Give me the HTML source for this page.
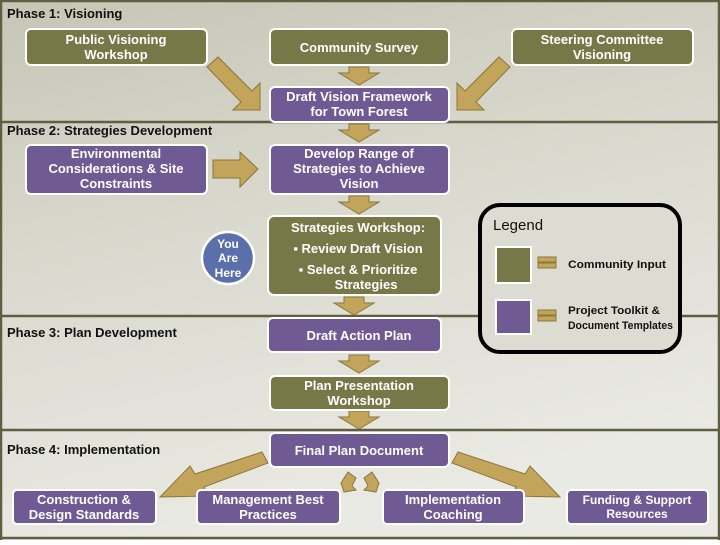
<!DOCTYPE html><html><head><style>body{margin:0}svg text{font-family:"Liberation Sans",sans-serif;font-weight:bold}</style></head><body>
<svg width="720" height="540" viewBox="0 0 720 540" xmlns="http://www.w3.org/2000/svg">
<defs><linearGradient id="bg" x1="0" y1="0" x2="0.3" y2="1"><stop offset="0" stop-color="#c6c6b6"/><stop offset="0.5" stop-color="#dadad0"/><stop offset="1" stop-color="#eaeae4"/></linearGradient>
<g id="da"><polygon points="-10,0 10,0 10,6 20,6 0,18 -20,6 -10,6" fill="#c2a55a" stroke="#8a763c" stroke-width="1"/></g></defs>
<rect width="720" height="540" fill="url(#bg)"/>
<g stroke="#5e5e40" stroke-width="2.5"><line x1="0" y1="1" x2="720" y2="1"/><line x1="0" y1="122" x2="720" y2="122"/><line x1="0" y1="316" x2="720" y2="316"/><line x1="0" y1="430" x2="720" y2="430"/><line x1="0" y1="538" x2="720" y2="538"/><line x1="1" y1="0" x2="1" y2="540"/><line x1="719" y1="0" x2="719" y2="540"/></g>
<g font-size="13" fill="#111"><text x="7" y="18">Phase 1: Visioning</text><text x="7" y="135">Phase 2: Strategies Development</text><text x="7" y="337">Phase 3: Plan Development</text><text x="7" y="454">Phase 4: Implementation</text></g>
<g fill="#c2a55a" stroke="#8a763c" stroke-width="1">
<polygon points="207,67 218,57 252,91 260,83 260,110 233,110 241,102"/>
<polygon points="510,67 499,57 465,91 457,83 457,110 484,110 476,102"/>
<polygon points="213,160 240,160 240,152 258,169 240,187 240,178 213,178"/>
<polygon points="262,452 268,463 204,487 208,496 160,497 190,466 195,474"/>
<polygon points="458,452 452,463 516,487 512,496 560,497 530,466 525,474"/>
<polygon points="341,483 348,472 356,478 352,486 356,490 344,492"/>
<polygon points="379,483 372,472 364,478 368,486 364,490 376,492"/>
</g>
<use href="#da" x="359" y="67"/><use href="#da" x="359" y="124"/><use href="#da" x="359" y="196"/><use href="#da" x="354" y="297"/><use href="#da" x="359" y="355"/><use href="#da" x="359" y="411"/>
<g stroke="#fff" stroke-width="2">
<rect x="26" y="29" width="181" height="36" rx="5" fill="#777748"/>
<rect x="270" y="29" width="179" height="36" rx="5" fill="#777748"/>
<rect x="512" y="29" width="181" height="36" rx="5" fill="#777748"/>
<rect x="270" y="87" width="179" height="35" rx="5" fill="#6f5a93"/>
<rect x="26" y="145" width="181" height="49" rx="5" fill="#6f5a93"/>
<rect x="270" y="145" width="179" height="49" rx="5" fill="#6f5a93"/>
<rect x="268" y="216" width="173" height="79" rx="6" fill="#777748"/>
<rect x="268" y="318" width="173" height="34" rx="5" fill="#6f5a93"/>
<rect x="270" y="376" width="179" height="34" rx="5" fill="#777748"/>
<rect x="270" y="433" width="179" height="34" rx="5" fill="#6f5a93"/>
<rect x="13" y="490" width="143" height="34" rx="4" fill="#6f5a93"/>
<rect x="197" y="490" width="143" height="34" rx="4" fill="#6f5a93"/>
<rect x="383" y="490" width="141" height="34" rx="4" fill="#6f5a93"/>
<rect x="567" y="490" width="141" height="34" rx="4" fill="#6f5a93"/>
<circle cx="228" cy="258" r="26" fill="#5b6faa" stroke-width="2.5"/>
</g>
<g fill="#fff" font-size="13" text-anchor="middle">
<text x="116" y="44">Public Visioning</text><text x="116" y="59">Workshop</text>
<text x="359" y="52">Community Survey</text>
<text x="602" y="44">Steering Committee</text><text x="602" y="59">Visioning</text>
<text x="359" y="101">Draft Vision Framework</text><text x="359" y="116">for Town Forest</text>
<text x="116" y="158">Environmental</text><text x="116" y="173">Considerations &amp; Site</text><text x="116" y="188">Constraints</text>
<text x="359" y="158">Develop Range of</text><text x="359" y="173">Strategies to Achieve</text><text x="359" y="188">Vision</text>
<text x="358" y="232">Strategies Workshop:</text><text x="358" y="253">▪  Review Draft Vision</text><text x="358" y="274">▪  Select &amp; Prioritize</text><text x="366" y="289">Strategies</text>
<text x="359" y="340">Draft Action Plan</text>
<text x="359" y="390">Plan Presentation</text><text x="359" y="405">Workshop</text>
<text x="359" y="455">Final Plan Document</text>
<text x="84" y="504">Construction &amp;</text><text x="84" y="519">Design Standards</text>
<text x="268" y="504">Management Best</text><text x="268" y="519">Practices</text>
<text x="453" y="504">Implementation</text><text x="453" y="519">Coaching</text>
<text x="637" y="504" font-size="12">Funding &amp; Support</text><text x="637" y="518" font-size="12">Resources</text>
<text x="228" y="248" font-size="12">You</text><text x="228" y="262" font-size="12">Are</text><text x="228" y="277" font-size="12">Here</text>
</g>
<rect x="480" y="205" width="200" height="147" rx="20" fill="#dcdcd2" stroke="#000" stroke-width="4"/>
<text x="493" y="230" font-size="15" style="font-weight:normal" fill="#111">Legend</text>
<rect x="496" y="247" width="35" height="36" fill="#777748" stroke="#fff" stroke-width="2"/>
<rect x="496" y="300" width="35" height="34" fill="#6f5a93" stroke="#fff" stroke-width="2"/>
<g fill="#c2a55a" stroke="#8a763c"><rect x="538" y="257" width="18" height="5"/><rect x="538" y="263" width="18" height="5"/><rect x="538" y="310" width="18" height="5"/><rect x="538" y="316" width="18" height="5"/></g>
<g font-size="11" fill="#111"><text x="568" y="268" textLength="98" lengthAdjust="spacingAndGlyphs">Community Input</text><text x="568" y="314" textLength="92" lengthAdjust="spacingAndGlyphs">Project Toolkit &amp;</text><text x="568" y="329" textLength="105" lengthAdjust="spacingAndGlyphs">Document Templates</text></g>
</svg></body></html>
